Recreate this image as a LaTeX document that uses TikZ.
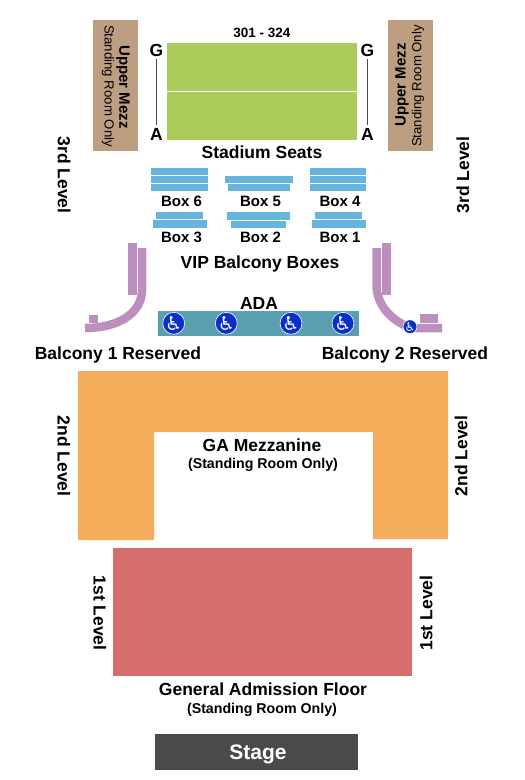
\documentclass[tikz,border=0pt]{standalone}
\usepackage{fontspec}
\setmainfont{Liberation Sans}
\newfontfamily\symbfont{DejaVu Sans}
\usepackage{xcolor}
\definecolor{mezzcolor}{RGB}{189,158,128}
\definecolor{seatcolor}{RGB}{171,203,90}
\definecolor{boxcolor}{RGB}{101,181,222}
\definecolor{balconycolor}{RGB}{188,143,191}
\definecolor{adacolor}{RGB}{90,159,176}
\definecolor{wheelcolor}{RGB}{10,47,203}
\definecolor{gacolor}{RGB}{244,173,90}
\definecolor{floorcolor}{RGB}{215,110,110}
\definecolor{stagecolor}{RGB}{74,74,74}

\begin{document}
\begin{tikzpicture}[x=1pt, y=-1pt]
  \tikzset{
    biglabel/.style={
      font=\fontsize{17.5}{17.5}\selectfont\bfseries,
      inner sep=0pt
    },
    boxlabel/.style={
      font=\fontsize{15}{15}\selectfont\bfseries,
      inner sep=0pt
    },
    smalllabel/.style={
      font=\fontsize{14.2}{14.2}\selectfont\bfseries,
      inner sep=0pt
    },
    mezzlabel/.style={
      font=\fontsize{15}{15}\selectfont\bfseries,
      inner sep=0pt
    },
    standlabel/.style={
      font=\fontsize{13.2}{13.2}\selectfont,
      inner sep=0pt
    },
    rowlabel/.style={
      font=\fontsize{17.5}{17.5}\selectfont\bfseries,
      inner sep=3pt
    },
    wheel/.style={
      circle,
      draw=white,
      line width=0.6pt,
      fill=wheelcolor,
      text=white,
      minimum size=20pt,
      inner sep=0pt,
      font=\symbfont\fontsize{19}{19}\selectfont
    },
    balcony/.style={
      line width=8.5pt,
      draw=balconycolor
    }
  }
  \useasboundingbox (0, 0) rectangle (525, 780);

  % Upper mezzanine
  \fill[mezzcolor] (92.7, 20) rectangle (138, 150.7);
  \fill[mezzcolor] (388, 20) rectangle (433, 150.7);
  \node[mezzlabel, rotate=-90] at (123, 87) (mezzL) {Upper Mezz};
  \node[standlabel, rotate=-90] at (108, 86) (standL) {Standing Room Only};
  \node[mezzlabel, rotate=90] at (402, 85) (mezzR) {Upper Mezz};
  \node[standlabel, rotate=90] at (418, 86) (standR) {Standing Room Only};

  % Stadium seats
  \fill[seatcolor] (167, 42.7) rectangle (357, 140);
  \draw[white, line width=0.8pt] (167, 91.3) -- (357, 91.3);
  \node[inner sep=0pt, font=\fontsize{13.5}{13.5}\selectfont\bfseries] at (262, 33) (rows) {301 - 324};
  \node[rowlabel] at (156.5, 50) (gL) {G};
  \node[rowlabel] at (156.5, 134) (aL) {A};
  \node[rowlabel] at (367.5, 50) (gR) {G};
  \node[rowlabel] at (367.5, 134) (aR) {A};
  \draw[stagecolor, line width=0.8pt] (gL) -- (aL);
  \draw[stagecolor, line width=0.8pt] (gR) -- (aR);
  \node[biglabel] at (262, 152.5) (seats) {Stadium Seats};

  % Boxes
  \fill[boxcolor] (151, 168) rectangle (208, 175);
  \fill[boxcolor] (151, 176) rectangle (208, 183);
  \fill[boxcolor] (151, 184) rectangle (208, 191);
  \fill[boxcolor] (225, 176) rectangle (293, 183);
  \fill[boxcolor] (228, 184) rectangle (290, 191);
  \fill[boxcolor] (310, 168) rectangle (366, 175);
  \fill[boxcolor] (310, 176) rectangle (366, 183);
  \fill[boxcolor] (310, 184) rectangle (366, 191);
  \fill[boxcolor] (156, 212) rectangle (203, 219);
  \fill[boxcolor] (153, 220) rectangle (207, 228);
  \fill[boxcolor] (227, 212) rectangle (290, 220);
  \fill[boxcolor] (231, 221) rectangle (286, 228);
  \fill[boxcolor] (315, 212) rectangle (362, 219);
  \fill[boxcolor] (312, 220) rectangle (366, 228);
  \node[boxlabel] at (181.5, 201) (box6) {Box 6};
  \node[boxlabel] at (260.5, 201) (box5) {Box 5};
  \node[boxlabel] at (340, 201) (box4) {Box 4};
  \node[boxlabel] at (181.5, 237) (box3) {Box 3};
  \node[boxlabel] at (260.5, 237) (box2) {Box 2};
  \node[boxlabel] at (340, 237) (box1) {Box 1};
  \node[biglabel] at (260, 264) (vip) {VIP Balcony Boxes};

  % Balconies
  \fill[balconycolor] (128, 243) rectangle (137, 295);
  \draw[balcony] (142, 248) -- (142, 290) .. controls (142, 312) and (120, 328) .. (85, 328);
  \fill[balconycolor] (89, 315) rectangle (98, 323);
  \fill[balconycolor] (382, 243) rectangle (391, 295);
  \draw[balcony] (376.5, 248) -- (376.5, 285) .. controls (376.5, 305) and (392, 322) .. (412, 328) -- (442, 328);
  \fill[balconycolor] (420, 314) rectangle (438, 323);
  \node[wheel, minimum size=13pt, font=\symbfont\fontsize{12}{12}\selectfont] at (410, 326.7) (wheel5) {♿};
  \node[biglabel] at (118, 354.5) (balcony1) {Balcony 1 Reserved};
  \node[biglabel] at (405, 354.5) (balcony2) {Balcony 2 Reserved};

  % ADA row
  \fill[adacolor] (158, 311) rectangle (359, 336);
  \node[biglabel] at (259, 303) (ada) {ADA};
  \node[wheel] at (173.7, 323.3) (wheel1) {♿};
  \node[wheel] at (226.3, 323.3) (wheel2) {♿};
  \node[wheel] at (291, 323.3) (wheel3) {♿};
  \node[wheel] at (343, 323.3) (wheel4) {♿};

  % GA mezzanine
  \fill[gacolor] (78, 371) -- (448, 371) -- (448, 539) -- (373, 539) -- (373, 432) -- (154, 432) -- (154, 540) -- (78, 540) -- cycle;
  \node[biglabel] at (262, 445) (gamezz) {GA Mezzanine};
  \node[smalllabel] at (263, 465) (gastand) {(Standing Room Only)};

  % Floor and stage
  \fill[floorcolor] (113, 548) rectangle (412, 676);
  \node[biglabel] at (263, 689) (floor) {General Admission Floor};
  \node[smalllabel] at (262, 710) (floorstand) {(Standing Room Only)};
  \fill[stagecolor] (155, 734) rectangle (358, 770);
  \node[biglabel, text=white, font=\fontsize{21}{21}\selectfont\bfseries] at (258, 754.5) (stage) {Stage};

  % Level labels
  \node[biglabel, rotate=-90] at (64, 175) (level3L) {3rd Level};
  \node[biglabel, rotate=90] at (463, 175) (level3R) {3rd Level};
  \node[biglabel, rotate=-90] at (64, 456) (level2L) {2nd Level};
  \node[biglabel, rotate=90] at (461, 456) (level2R) {2nd Level};
  \node[biglabel, rotate=-90] at (100, 613) (level1L) {1st Level};
  \node[biglabel, rotate=90] at (426, 613) (level1R) {1st Level};
\end{tikzpicture}
\end{document}
